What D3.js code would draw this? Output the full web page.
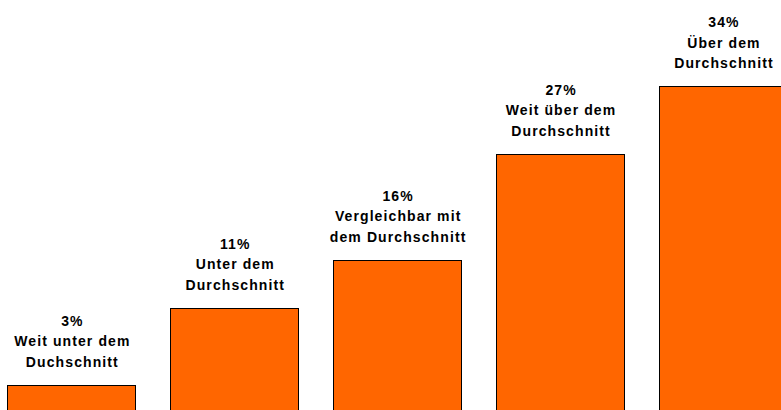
<!DOCTYPE html>
<html>
<head>
<meta charset="utf-8">
<script src="https://cdn.jsdelivr.net/npm/d3@7"></script>
<style>
  body { margin: 0; background: #fff; }
  svg { display: block; }
  .lbl { font-family: "Liberation Sans", Arial, sans-serif; font-weight: bold; font-size: 14px; letter-spacing: 1.1px; fill: #000; }
</style>
</head>
<body>
<svg></svg>
<script>
// values
var categories = ["Weit unter dem Duchschnitt", "Unter dem Durchschnitt", "Vergleichbar mit dem Durchschnitt", "Weit über dem Durchschnitt", "Über dem Durchschnitt"];
var values = [3, 11, 16, 27, 34];
var labelLines = [
    ["Weit unter dem", "Duchschnitt"],
    ["Unter dem", "Durchschnitt"],
    ["Vergleichbar mit", "dem Durchschnitt"],
    ["Weit über dem", "Durchschnitt"],
    ["Über dem", "Durchschnitt"]
];

var W = 781, H = 410;
var svg = d3.select("svg").attr("width", W).attr("height", H);

var x = d3.scaleBand()
    .domain(categories)
    .range([-10.1, 804.4])
    .paddingInner(0.214)
    .paddingOuter(0.107);

var y = d3.scaleLinear()
    .domain([0, 34])
    .range([413.9, 86]);

var data = categories.map(function(c, i) {
    return {cat: c, v: values[i], lines: labelLines[i]};
});

svg.selectAll("rect.bar")
    .data(data)
    .enter().append("rect")
    .attr("class", "bar")
    .attr("x", function(d) { return Math.round(x(d.cat)) + 0.5; })
    .attr("y", function(d) { return Math.round(y(d.v)) + 0.5; })
    .attr("width", Math.round(x.bandwidth()))
    .attr("height", function(d) { return y(0) - y(d.v) + 10; })
    .attr("fill", "#FF6600")
    .attr("stroke", "#000")
    .attr("stroke-width", 1);

var lineH = 20.5, gap = 18;
var g = svg.selectAll("g.lab")
    .data(data)
    .enter().append("g")
    .attr("class", "lab");

g.each(function(d) {
    var rows = [d.v + "%"].concat(d.lines);
    var cx = x(d.cat) + x.bandwidth() / 2 + 1;
    var bottom = y(d.v) - gap;
    d3.select(this).selectAll("text")
        .data(rows)
        .enter().append("text")
        .attr("class", "lbl")
        .attr("text-anchor", "middle")
        .attr("x", cx)
        .attr("y", function(r, i) { return bottom - (rows.length - 1 - i) * lineH; })
        .text(function(r) { return r; });
});
</script>
</body>
</html>
